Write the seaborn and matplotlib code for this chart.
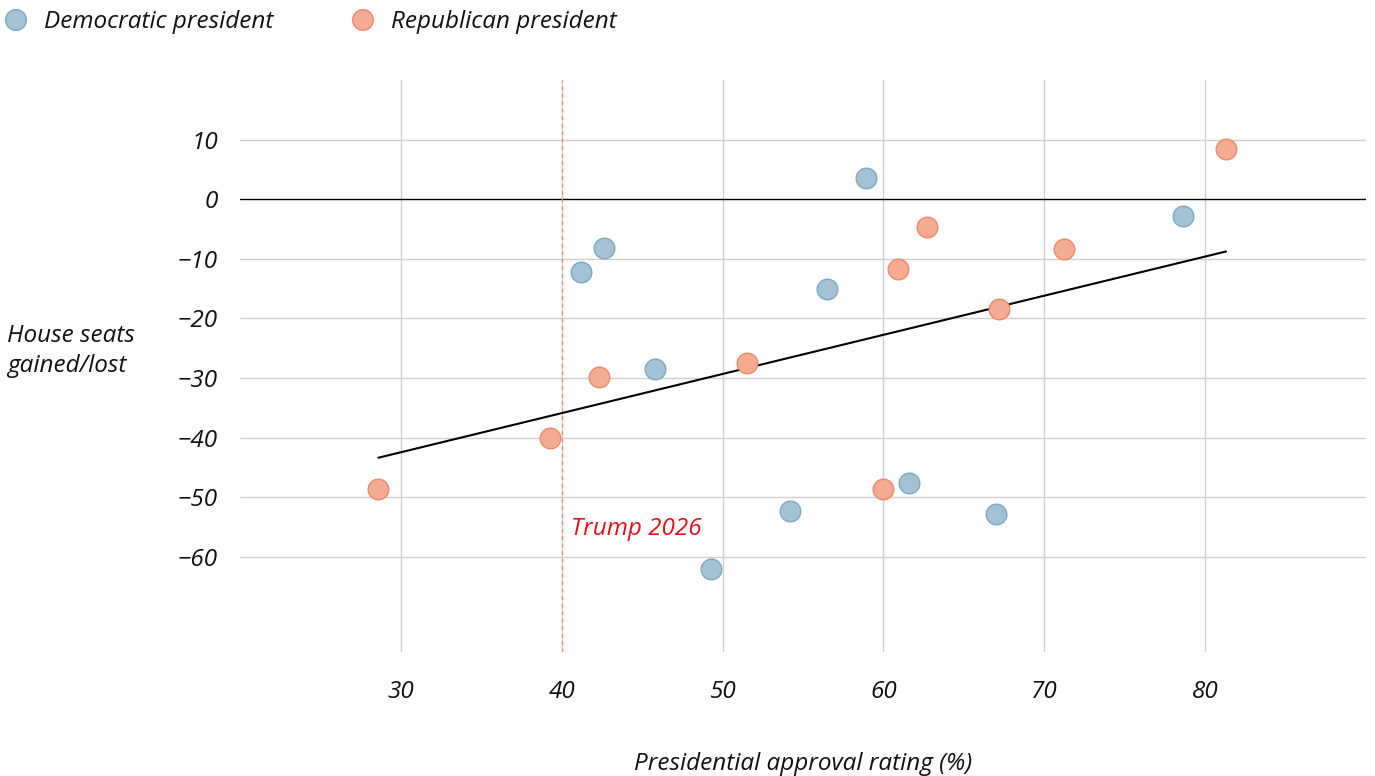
import numpy as np
import pandas as pd
import matplotlib
matplotlib.use("Agg")
import matplotlib.pyplot as plt
import seaborn as sns

dem_approval = [41.2, 42.6, 45.8, 49.3, 54.2, 56.5, 58.9, 61.6, 67.0, 78.6]
dem_seats = [-12.2, -8.2, -28.5, -62.0, -52.4, -15.1, 3.5, -47.6, -52.9, -2.8]
rep_approval = [28.6, 39.3, 42.3, 51.5, 60.0, 60.9, 62.7, 67.2, 71.2, 81.3]
rep_seats = [-48.6, -40.0, -29.8, -27.5, -48.6, -11.7, -4.7, -18.4, -8.4, 8.4]
party_labels = ["Democratic president", "Republican president"]
x_ticks = [30, 40, 50, 60, 70, 80]
y_ticks = [10, 0, -10, -20, -30, -40, -50, -60]
trump_approval = 40
trump_label = "Trump 2026"

df = pd.DataFrame({
    "approval": dem_approval + rep_approval,
    "seats": dem_seats + rep_seats,
    "party": [party_labels[0]] * len(dem_approval) + [party_labels[1]] * len(rep_approval),
})

sns.set_style("white")
plt.rcParams["font.family"] = ["Open Sans", "DejaVu Sans"]
plt.rcParams["font.style"] = "italic"
plt.rcParams["text.color"] = "#111111"
FS = 17.5

fig = plt.figure(figsize=(13.75, 7.76), dpi=100)
ax = fig.add_axes([240 / 1375, 1 - 652 / 776, (1366 - 240) / 1375, (652 - 80) / 776])

palette = {party_labels[0]: "#a4c2d6", party_labels[1]: "#f4ab90"}
edges = {party_labels[0]: "#7ea7c1", party_labels[1]: "#ea8a6c"}

for t in x_ticks:
    ax.axvline(t, color="#cfcfcf", lw=1, zorder=0)
for t in y_ticks:
    if t != 0:
        ax.axhline(t, color="#cfcfcf", lw=1, zorder=0)
ax.axhline(0, color="black", lw=1, zorder=1)
ax.axvline(trump_approval, color="#f08468", lw=0.9, ls=(0, (3, 3)), zorder=1)

# regression
allx = np.array(df["approval"])
ally = np.array(df["seats"])
m, b = np.polyfit(allx, ally, 1)
xs = np.array([allx.min(), allx.max()])
sns.lineplot(x=xs, y=m * xs + b, color="black", lw=1.5, ax=ax, zorder=2)

for p in party_labels:
    sub = df[df["party"] == p]
    sns.scatterplot(data=sub, x="approval", y="seats", color=palette[p],
                    edgecolor=edges[p], linewidth=1, s=220, ax=ax, zorder=3, legend=False)

ax.text(trump_approval + 0.55, -55.3, trump_label, color="#e0121c", fontsize=FS, style="italic",
        ha="left", va="center")

ax.set_xlim(20, 90)
ax.set_ylim(-76, 20)
ax.set_xticks(x_ticks)
ax.set_yticks(y_ticks)
ax.set_yticklabels([f"{t}".replace("-", "\u2212") for t in y_ticks])
ax.tick_params(axis="both", length=0, labelsize=FS, labelcolor="#111111")
ax.tick_params(axis="x", pad=20)
ax.tick_params(axis="y", pad=16)
for s in ax.spines.values():
    s.set_visible(False)
ax.set_xlabel("")
ax.set_ylabel("")

fig.text(634 / 1375, 1 - 764 / 776, "Presidential approval rating (%)", fontsize=FS,
         style="italic", ha="left", va="center")
fig.text(7 / 1375, 1 - 351 / 776, "House seats\ngained/lost", fontsize=FS, style="italic",
         ha="left", va="center", linespacing=1.35)

# legend
lax = fig.add_axes([0, 0, 1, 1], facecolor="none")
lax.set_xlim(0, 1375)
lax.set_ylim(776, 0)
lax.axis("off")
lax.scatter([16, 363], [20, 20], s=220, c=[palette[p] for p in party_labels],
            edgecolors=[edges[p] for p in party_labels], linewidths=1)
lax.text(44, 22, party_labels[0], fontsize=FS, style="italic", va="center", ha="left")
lax.text(391, 22, party_labels[1], fontsize=FS, style="italic", va="center", ha="left")

fig.savefig("out.png", dpi=100)
